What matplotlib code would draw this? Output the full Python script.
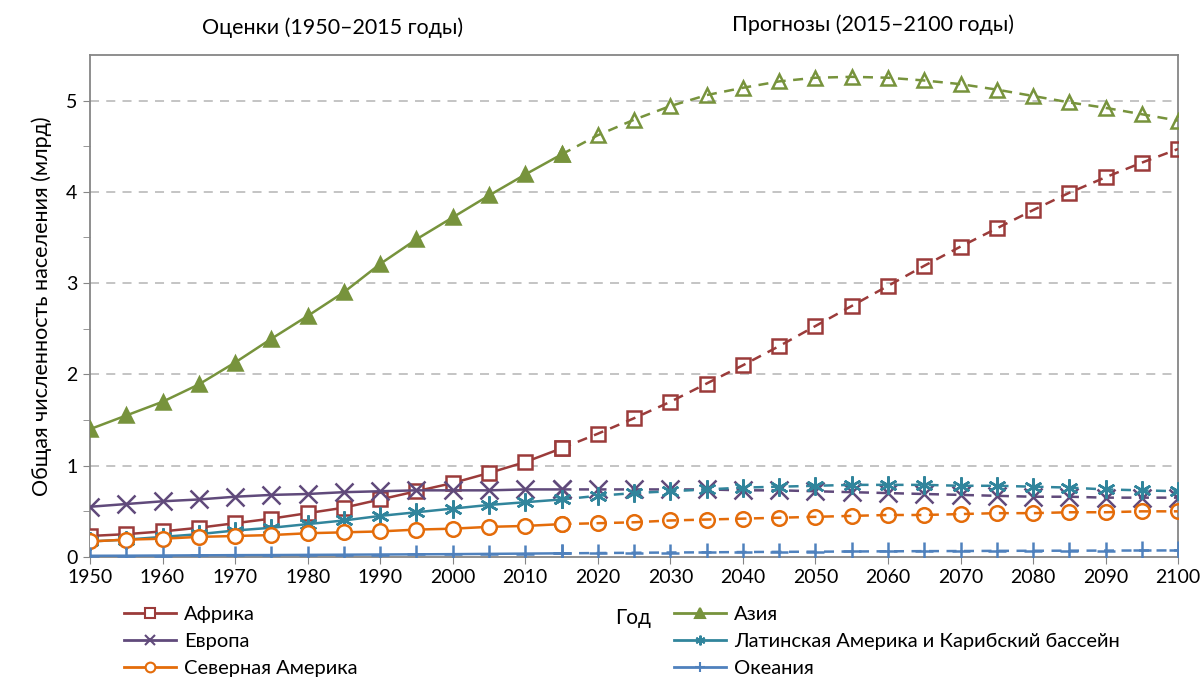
import numpy as np
import matplotlib
matplotlib.use("Agg")
import matplotlib.pyplot as plt
from matplotlib.lines import Line2D

plt.rcParams['font.family'] = ['Lato', 'DejaVu Sans']
plt.rcParams['font.size'] = 14

# ---------------------------------------------------------
# DATA (billions)
# ---------------------------------------------------------
years = list(range(1950, 2101, 5))
split_year = 2015

africa = [0.23, 0.25, 0.28, 0.32, 0.37, 0.42, 0.48, 0.54, 0.63, 0.72, 0.81, 0.92,
          1.04, 1.19, 1.35, 1.52, 1.70, 1.90, 2.10, 2.31, 2.53, 2.75, 2.97, 3.19,
          3.40, 3.60, 3.80, 3.99, 4.16, 4.32, 4.47]
asia = [1.40, 1.55, 1.70, 1.89, 2.13, 2.39, 2.64, 2.90, 3.21, 3.48, 3.72, 3.96,
        4.19, 4.41, 4.62, 4.79, 4.94, 5.06, 5.14, 5.21, 5.25, 5.26, 5.25, 5.22,
        5.18, 5.12, 5.05, 4.98, 4.92, 4.85, 4.78]
europe = [0.55, 0.58, 0.61, 0.63, 0.66, 0.68, 0.69, 0.71, 0.72, 0.73, 0.73, 0.73,
          0.74, 0.74, 0.74, 0.74, 0.74, 0.74, 0.73, 0.73, 0.72, 0.71, 0.70, 0.69,
          0.68, 0.67, 0.66, 0.66, 0.65, 0.65, 0.65]
latam = [0.17, 0.19, 0.22, 0.25, 0.29, 0.32, 0.36, 0.40, 0.45, 0.49, 0.53, 0.57,
         0.60, 0.63, 0.67, 0.70, 0.72, 0.74, 0.76, 0.77, 0.78, 0.79, 0.79, 0.79,
         0.78, 0.78, 0.77, 0.76, 0.74, 0.73, 0.72]
n_america = [0.17, 0.19, 0.20, 0.22, 0.23, 0.24, 0.26, 0.27, 0.28, 0.30, 0.31, 0.33,
             0.34, 0.36, 0.37, 0.38, 0.40, 0.41, 0.42, 0.43, 0.44, 0.45, 0.46, 0.46,
             0.47, 0.48, 0.48, 0.49, 0.49, 0.50, 0.50]
oceania = [0.013, 0.014, 0.016, 0.018, 0.020, 0.021, 0.023, 0.025, 0.027, 0.029,
           0.031, 0.034, 0.037, 0.040, 0.043, 0.046, 0.049, 0.051, 0.054, 0.056,
           0.058, 0.060, 0.062, 0.064, 0.065, 0.067, 0.068, 0.069, 0.070, 0.071, 0.072]

# name, values, colour, marker, estimate face
series = [
    ("Африка", africa, "#9B3B3A", "s", "white"),
    ("Азия", asia, "#77933C", "^", None),
    ("Европа", europe, "#604A7B", "x", None),
    ("Латинская Америка и Карибский бассейн", latam, "#31859C", (6, 2, 0), None),
    ("Северная Америка", n_america, "#E46C0A", "o", "white"),
    ("Океания", oceania, "#4F81BD", "+", None),
]

# ---------------------------------------------------------
# PLOT
# ---------------------------------------------------------
fig = plt.figure(figsize=(12.01, 6.78), dpi=100)
ax = fig.add_axes([0.0749, 0.1785, 0.9061, 0.7405])

yrs = np.array(years)
est = yrs <= split_year
proj = yrs >= split_year
handles = {}
for name, vals, col, mk, face in series:
    v = np.array(vals)
    ms = 13 if mk in ("x", "+", (6, 2, 0)) else 10.5
    est_face = face if face else col
    ax.plot(yrs[proj], v[proj], color=col, lw=1.8, ls=(0, (4, 3)),
            marker=mk, ms=ms, mfc="none", mec=col, mew=1.8, zorder=3)
    ax.plot(yrs[est], v[est], color=col, lw=1.8, ls="-",
            marker=mk, ms=ms, mfc=est_face, mec=col, mew=1.8, zorder=4)
    handles[name] = Line2D([], [], color=col, lw=2, marker=mk, ms=7,
                           mfc=est_face, mec=col, mew=1.5)

ax.set_xlim(1950, 2100)
ax.set_ylim(0, 5.5)
ax.set_xticks(range(1950, 2101, 10))
ax.set_yticks(range(0, 6))
ax.set_yticks(np.arange(0.5, 5.5, 1.0), minor=True)
ax.tick_params(axis="both", direction="out", length=5, color="#868686", labelsize=14, pad=4)
ax.tick_params(axis="y", which="minor", length=5, color="#868686")
for y in range(1, 6):
    ax.axhline(y, color="#BFBFBF", lw=1.3, ls=(0, (5, 4)), zorder=1)
for s in ax.spines.values():
    s.set_color("#868686")
    s.set_linewidth(1.3)

ax.set_ylabel("Общая численность населения (млрд)", fontsize=15.5, labelpad=10)

fig.text(333 / 1201, 1 - 28 / 678, "Оценки (1950–2015 годы)", ha="center", va="center", fontsize=15.5)
fig.text(873 / 1201, 1 - 25 / 678, "Прогнозы (2015–2100 годы)", ha="center", va="center", fontsize=15.5)
fig.text(633 / 1201, 1 - 618 / 678, "Год", ha="center", va="center", fontsize=15)

leg_kw = dict(loc="upper left", frameon=False, borderpad=0, borderaxespad=0,
              handlelength=2.6, handletextpad=0.4, labelspacing=0.5, fontsize=14.5)
col1 = ["Африка", "Европа", "Северная Америка"]
col2 = ["Азия", "Латинская Америка и Карибский бассейн", "Океания"]
fig.legend([handles[n] for n in col1], col1, bbox_to_anchor=(124 / 1201, 1 - 606 / 678), **leg_kw)
fig.legend([handles[n] for n in col2], col2, bbox_to_anchor=(674 / 1201, 1 - 606 / 678), **leg_kw)

fig.savefig("out.png", dpi=100)
